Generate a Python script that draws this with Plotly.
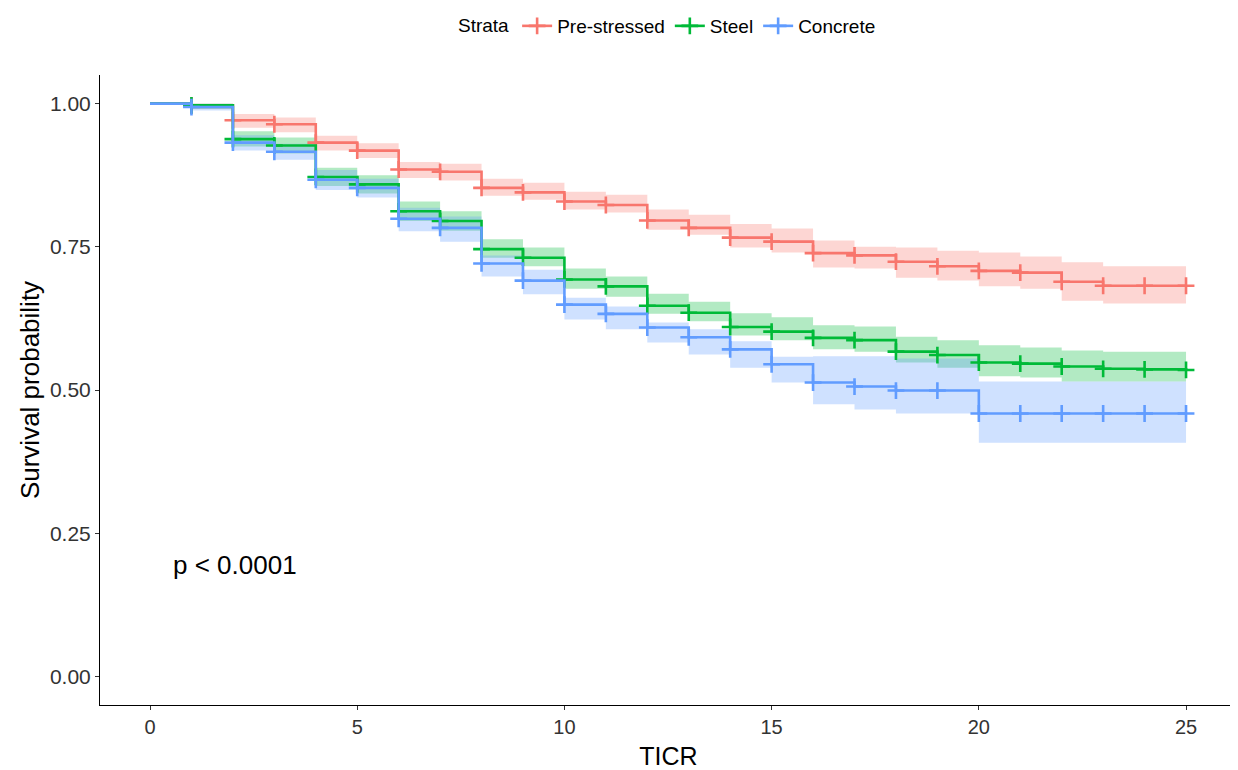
import plotly.graph_objects as go

times = list(range(0, 26))
strata = ["Pre-stressed", "Steel", "Concrete"]
colors = ["#F8766D", "#00BA38", "#619CFF"]
fills = ["rgba(248,118,109,0.3)", "rgba(0,186,56,0.3)", "rgba(97,156,255,0.3)"]

surv_prestressed = [1.0, 0.997, 0.971, 0.964, 0.932, 0.918, 0.885, 0.881, 0.853, 0.845, 0.829, 0.823, 0.796,
                    0.783, 0.766, 0.759, 0.739, 0.735, 0.724, 0.716, 0.708, 0.705, 0.689, 0.682, 0.682, 0.682]
lower_prestressed = [1.0, 0.991, 0.958, 0.950, 0.918, 0.905, 0.870, 0.866, 0.839, 0.832, 0.815, 0.810, 0.780,
                     0.771, 0.749, 0.740, 0.714, 0.712, 0.696, 0.691, 0.681, 0.677, 0.656, 0.651, 0.651, 0.651]
upper_prestressed = [1.0, 1.0, 0.982, 0.976, 0.944, 0.931, 0.898, 0.895, 0.869, 0.862, 0.846, 0.841, 0.815,
                     0.806, 0.790, 0.782, 0.761, 0.750, 0.749, 0.743, 0.740, 0.733, 0.723, 0.716, 0.716, 0.716]

surv_steel = [1.0, 0.997, 0.938, 0.927, 0.872, 0.859, 0.812, 0.795, 0.746, 0.731, 0.693, 0.681, 0.647,
              0.635, 0.610, 0.602, 0.591, 0.587, 0.567, 0.561, 0.548, 0.546, 0.541, 0.537, 0.536, 0.535]
lower_steel = [1.0, 0.991, 0.925, 0.913, 0.856, 0.843, 0.795, 0.778, 0.731, 0.716, 0.677, 0.663, 0.633,
               0.620, 0.595, 0.587, 0.571, 0.567, 0.548, 0.539, 0.524, 0.522, 0.515, 0.515, 0.515, 0.515]
upper_steel = [1.0, 1.0, 0.952, 0.941, 0.888, 0.875, 0.829, 0.812, 0.763, 0.749, 0.712, 0.698, 0.668,
               0.654, 0.634, 0.627, 0.613, 0.611, 0.593, 0.587, 0.578, 0.574, 0.569, 0.567, 0.567, 0.567]

surv_concrete = [1.0, 0.994, 0.932, 0.916, 0.867, 0.853, 0.799, 0.783, 0.721, 0.691, 0.649, 0.633, 0.609,
                 0.592, 0.571, 0.545, 0.513, 0.506, 0.499, 0.499, 0.459, 0.459, 0.459, 0.459, 0.459, 0.459]
lower_concrete = [1.0, 0.988, 0.918, 0.902, 0.849, 0.836, 0.777, 0.759, 0.698, 0.667, 0.623, 0.606, 0.583,
                  0.562, 0.539, 0.513, 0.475, 0.466, 0.459, 0.459, 0.408, 0.408, 0.408, 0.408, 0.408, 0.408]
upper_concrete = [1.0, 1.0, 0.945, 0.930, 0.884, 0.869, 0.818, 0.803, 0.735, 0.710, 0.661, 0.646, 0.618,
                  0.606, 0.585, 0.558, 0.559, 0.559, 0.555, 0.555, 0.515, 0.515, 0.515, 0.515, 0.515, 0.515]

x_ticks = [0, 5, 10, 15, 20, 25]
y_ticks = [0.0, 0.25, 0.5, 0.75, 1.0]
p_text = "p < 0.0001"

surv = [surv_prestressed, surv_steel, surv_concrete]
lowers = [lower_prestressed, lower_steel, lower_concrete]
uppers = [upper_prestressed, upper_steel, upper_concrete]

FONT = "Liberation Sans, Arial, sans-serif"

fig = go.Figure()

# confidence bands
for i in range(3):
    fig.add_trace(go.Scatter(x=times, y=lowers[i], mode="lines", line=dict(width=0, shape="hv"),
                             showlegend=False, hoverinfo="skip"))
    fig.add_trace(go.Scatter(x=times, y=uppers[i], mode="lines", line=dict(width=0, shape="hv"),
                             fill="tonexty", fillcolor=fills[i], showlegend=False, hoverinfo="skip"))

# survival curves
for i in range(3):
    fig.add_trace(go.Scatter(x=times, y=surv[i], mode="lines",
                             line=dict(color=colors[i], width=2.6, shape="hv"),
                             showlegend=False, name=strata[i]))
    fig.add_trace(go.Scatter(x=times[1:], y=surv[i][1:], mode="markers",
                             marker=dict(symbol="cross-thin", size=12,
                                         line=dict(width=2.6, color=colors[i]), color=colors[i]),
                             showlegend=False, hoverinfo="skip"))

# legend entries
for i in range(3):
    fig.add_trace(go.Scatter(x=[None], y=[None], mode="lines+markers", name=strata[i],
                             line=dict(color=colors[i], width=2.6),
                             marker=dict(symbol="cross-thin", size=12,
                                         line=dict(width=2.6, color=colors[i]), color=colors[i])))

fig.add_annotation(x=0.5, y=0.195, xref="x", yref="y", text=p_text, showarrow=False,
                   xanchor="left", yanchor="middle", font=dict(size=26, color="black", family=FONT))

fig.update_layout(
    width=1230, height=762,
    margin=dict(l=92, r=1, t=67, b=65, autoexpand=False),
    plot_bgcolor="white", paper_bgcolor="white",
    font=dict(family=FONT, color="black"),
    legend=dict(orientation="h", x=0.5, xanchor="center", y=1 - 18 / 762, yanchor="middle",
                yref="container", traceorder="normal",
                title=dict(text="Strata", font=dict(size=19)), font=dict(size=19),
                itemwidth=30, bgcolor="rgba(0,0,0,0)"),
    xaxis=dict(range=[-1.207, 26.23], tickvals=x_ticks, ticks="outside", ticklen=4, tickcolor="#333333",
               showline=True, linecolor="black", linewidth=1, showgrid=False, zeroline=False,
               tickfont=dict(size=20, color="#333333"), automargin=False,
               title=dict(text="TICR", font=dict(size=25, color="black"), standoff=10)),
    yaxis=dict(range=[-0.05, 1.05], tickvals=y_ticks, tickformat=".2f", ticks="outside", ticklen=4,
               tickcolor="#333333", showline=True, linecolor="black", linewidth=1, showgrid=False,
               zeroline=False, tickfont=dict(size=21, color="#333333"), automargin=False,
               title=dict(text="Survival probability", font=dict(size=26, color="black"), standoff=2)),
)

fig.write_html("out.html")
